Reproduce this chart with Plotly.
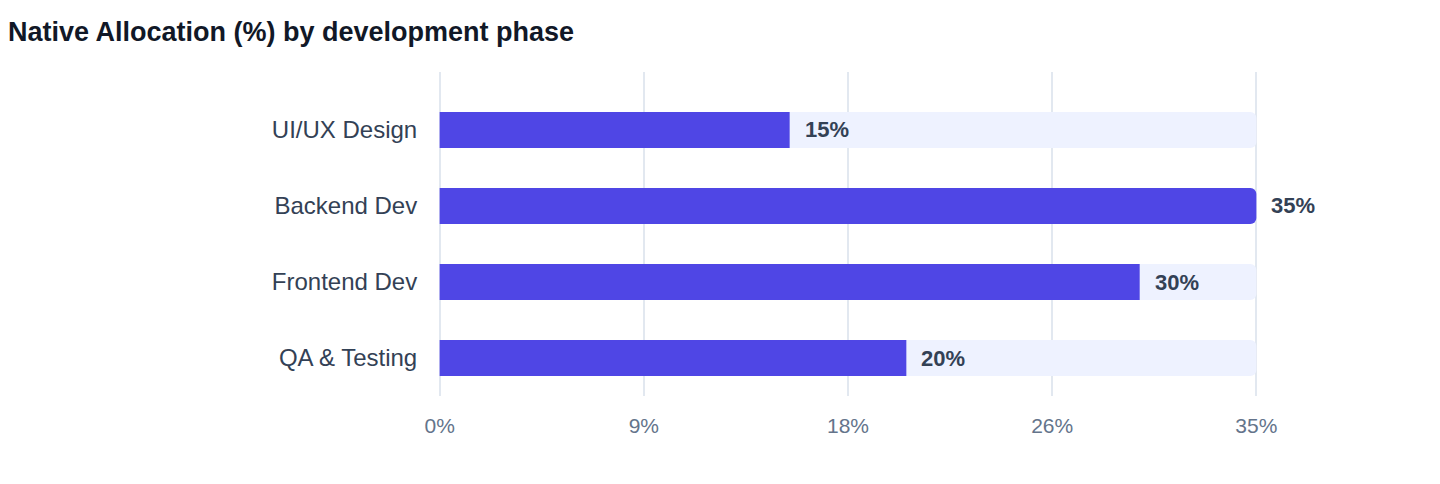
import plotly.graph_objects as go

phases = ["UI/UX Design", "Backend Dev", "Frontend Dev", "QA & Testing"]
allocation = [15, 35, 30, 20]
max_value = 35
tick_vals = [0, 8.75, 17.5, 26.25, 35]
tick_text = ["0%", "9%", "18%", "26%", "35%"]

font = "Liberation Sans, Helvetica, Arial, sans-serif"

fig = go.Figure()

# background track
fig.add_trace(go.Bar(
    y=phases, x=[max_value] * len(phases), orientation="h",
    marker=dict(color="#eef2ff", cornerradius=6, line=dict(width=0)),
    hoverinfo="skip", showlegend=False,
))
# value bar
fig.add_trace(go.Bar(
    y=phases, x=allocation, orientation="h",
    marker=dict(color="#4f46e5", cornerradius=6, line=dict(width=0)),
    showlegend=False,
))

for p, v in zip(phases, allocation):
    fig.add_annotation(
        x=v, y=p, text=f"<b>{v}%</b>", showarrow=False,
        xanchor="left", xshift=13,
        font=dict(family=font, size=22, color="#334155"),
    )

fig.update_layout(
    width=1440, height=484,
    barmode="overlay", bargap=0.526,
    plot_bgcolor="white", paper_bgcolor="white",
    margin=dict(l=430, r=190, t=64, b=96),
    title=dict(
        text="<b>Native Allocation (%) by development phase</b>",
        x=0, xanchor="left", y=0.952, yanchor="middle",
        font=dict(family=font, size=27, color="#111827"),
    ),
    xaxis=dict(
        range=[-0.07, max_value + 0.07], tickvals=tick_vals, ticktext=tick_text,
        showgrid=True, gridcolor="#e2e8f0", gridwidth=1.5,
        zeroline=False, showline=False,
        ticks="outside", ticklen=11, tickcolor="rgba(0,0,0,0)",
        tickfont=dict(family=font, size=21, color="#64748b"),
    ),
    yaxis=dict(
        categoryorder="array", categoryarray=phases,
        range=[3.5, -0.763],
        showgrid=False, zeroline=False, showline=False,
        ticks="outside", ticklen=15, tickcolor="rgba(0,0,0,0)",
        tickfont=dict(family=font, size=24, color="#334155"),
    ),
)

fig.write_html("out.html")
